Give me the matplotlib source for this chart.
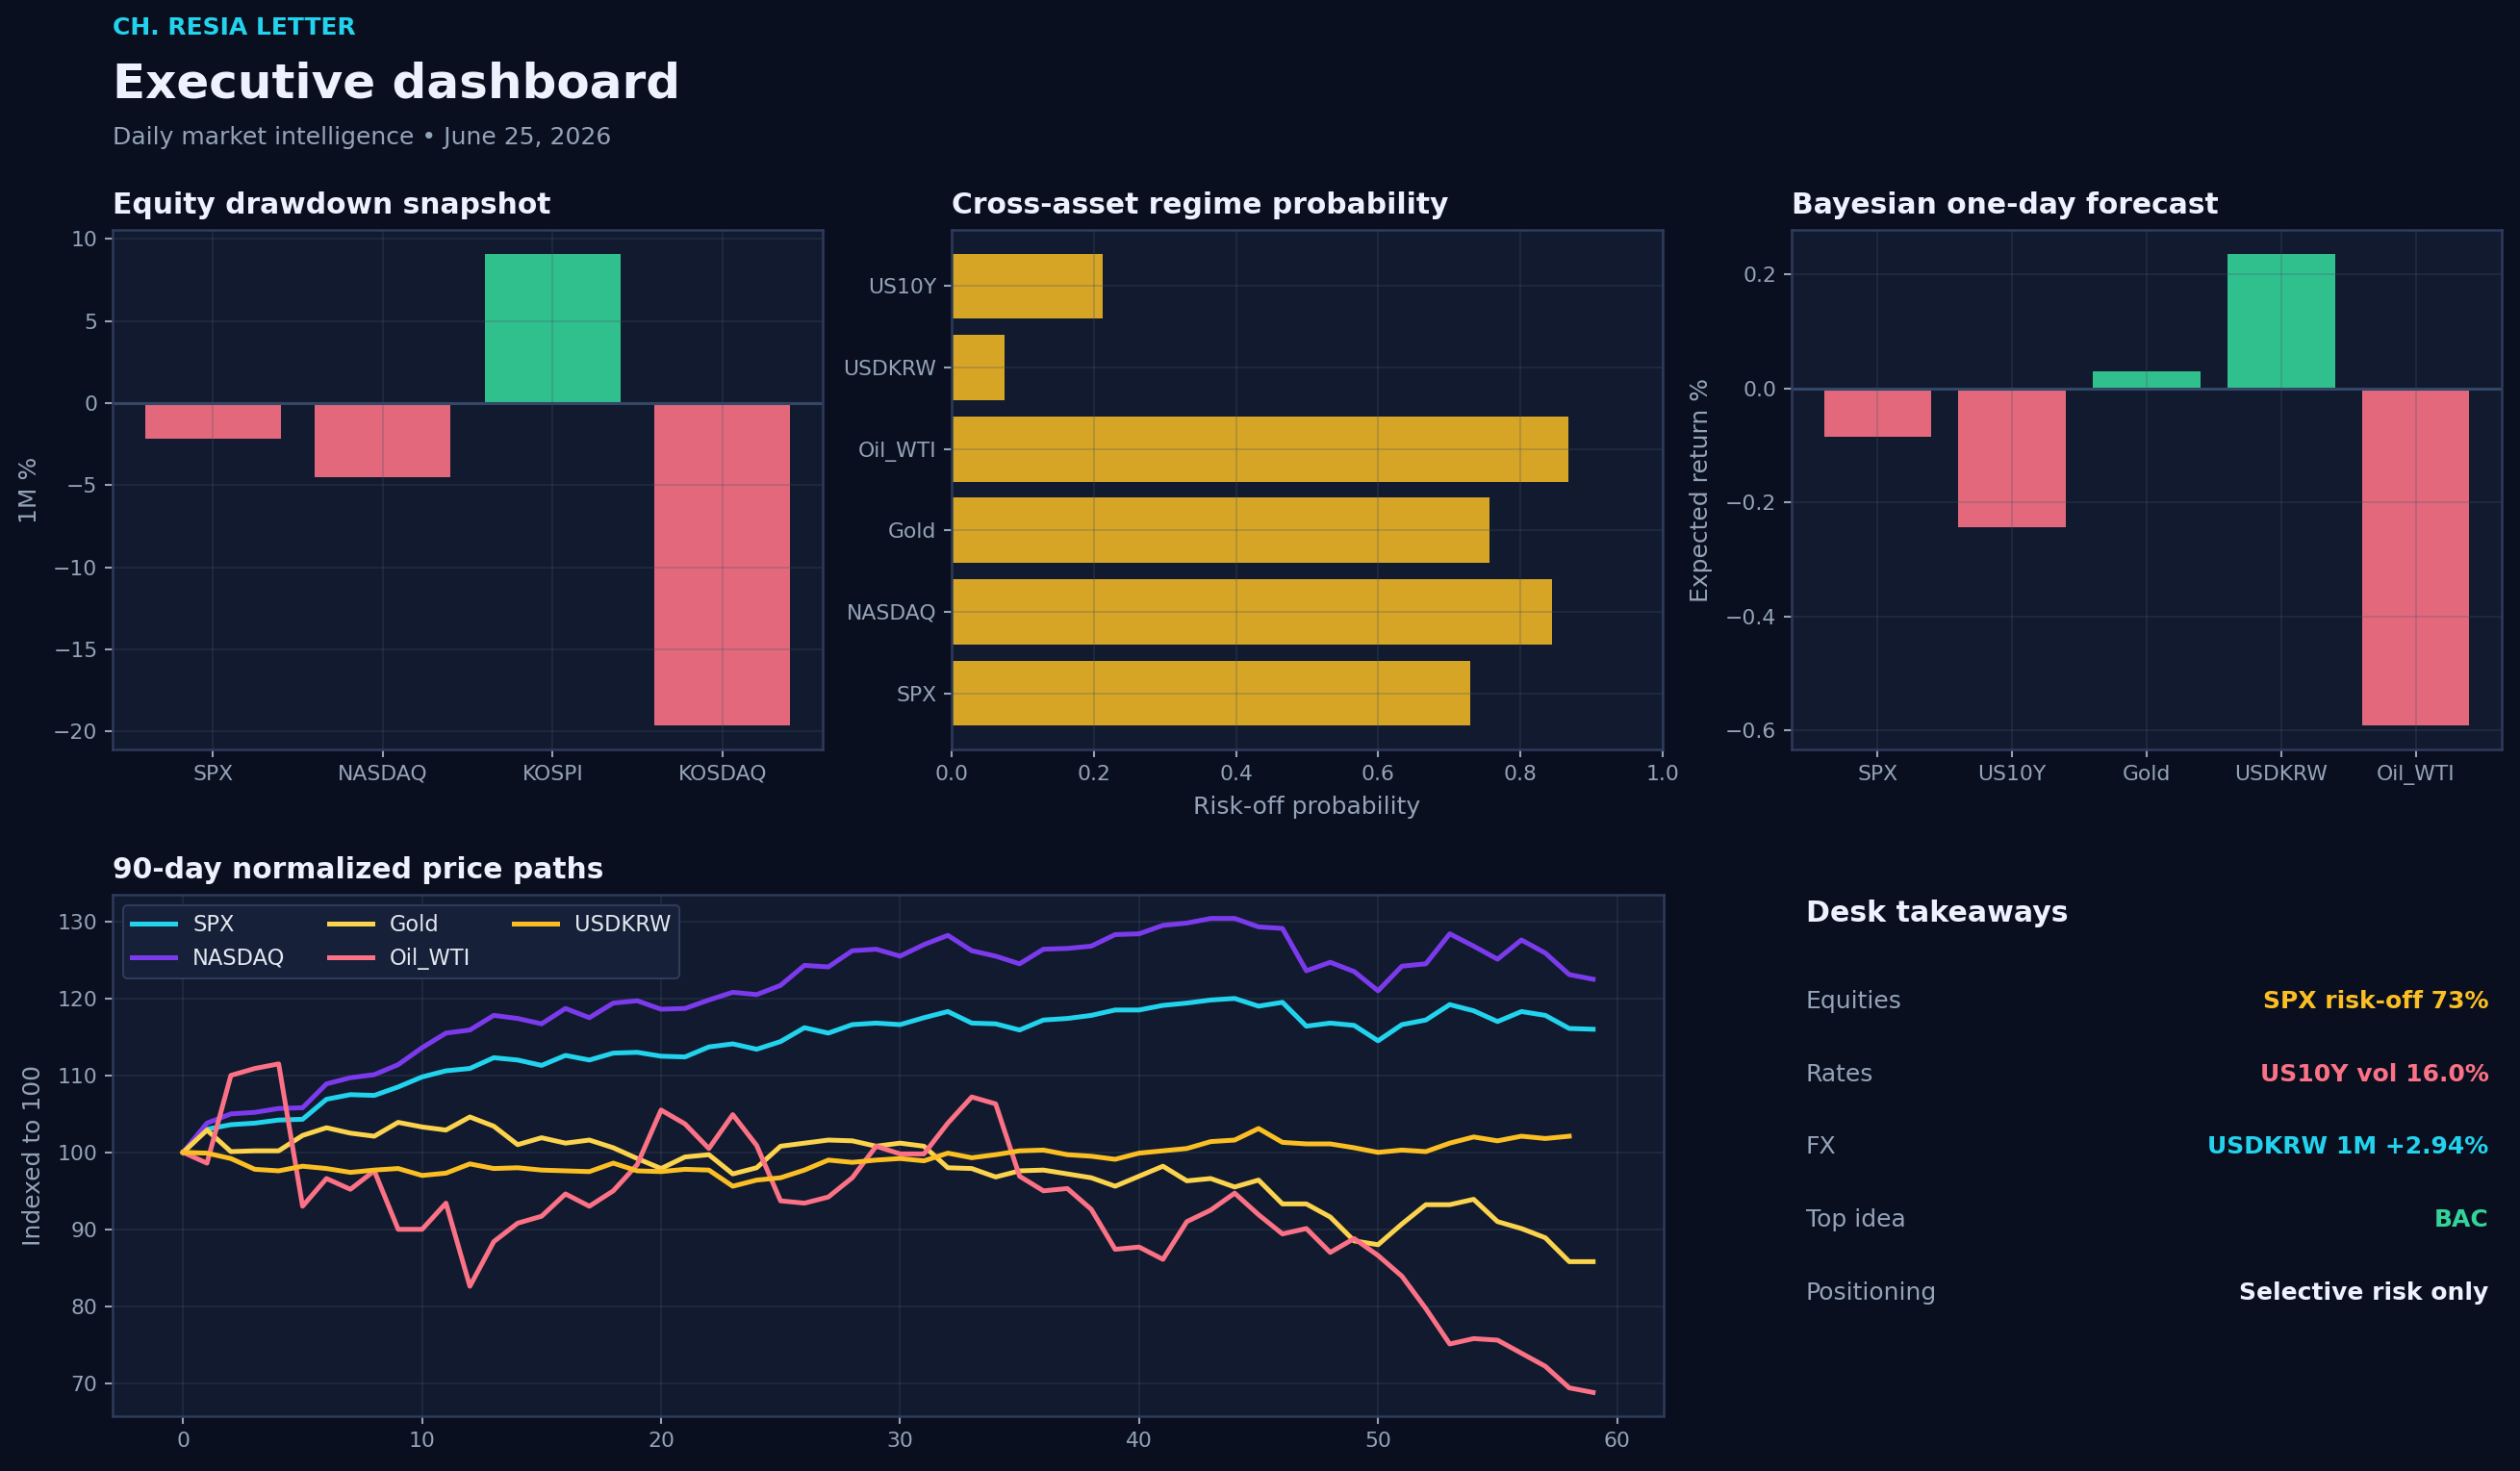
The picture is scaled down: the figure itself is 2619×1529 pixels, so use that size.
import matplotlib
matplotlib.use("Agg")
import matplotlib.pyplot as plt

# colours
BG = "#0a0f1f"
PANEL = "#111a2e"
SPINE = "#2f3b5c"
MUTED = "#94a3b8"
WHITE = "#eef2ff"
RED = "#fb7185"
GREEN = "#34d399"
AMBER = "#fbbf24"
CYAN = "#22d3ee"
PURPLE = "#7c3aed"
GOLD = "#fcd34d"

# data
equity_names = ["SPX", "NASDAQ", "KOSPI", "KOSDAQ"]
equity_1m = [-2.15, -4.5, 9.1, -19.65]

regime_names = ["SPX", "NASDAQ", "Gold", "Oil_WTI", "USDKRW", "US10Y"]
riskoff_prob = [0.729, 0.844, 0.756, 0.867, 0.074, 0.213]

forecast_names = ["SPX", "US10Y", "Gold", "USDKRW", "Oil_WTI"]
forecast_ret = [-0.085, -0.243, 0.031, 0.237, -0.592]

spx = [100, 103.0, 103.6, 103.8, 104.2, 104.3, 106.9, 107.5, 107.4, 108.5,
       109.8, 110.6, 110.9, 112.3, 112.0, 111.3, 112.6, 112.0, 112.9, 113.0,
       112.5, 112.4, 113.7, 114.1, 113.4, 114.4, 116.2, 115.5, 116.6, 116.8,
       116.6, 117.5, 118.3, 116.8, 116.7, 115.9, 117.2, 117.4, 117.8, 118.5,
       118.5, 119.1, 119.4, 119.8, 120.0, 119.0, 119.5, 116.4, 116.8, 116.5,
       114.5, 116.6, 117.2, 119.2, 118.4, 117.0, 118.3, 117.8, 116.1, 116.0]
nasdaq = [100, 103.8, 105.0, 105.2, 105.7, 105.8, 108.9, 109.7, 110.1, 111.4,
          113.6, 115.5, 115.9, 117.8, 117.4, 116.7, 118.7, 117.5, 119.4, 119.7,
          118.6, 118.7, 119.8, 120.8, 120.5, 121.7, 124.3, 124.1, 126.2, 126.4,
          125.5, 127.0, 128.2, 126.2, 125.5, 124.5, 126.4, 126.5, 126.8, 128.3,
          128.4, 129.5, 129.8, 130.4, 130.4, 129.3, 129.1, 123.6, 124.7, 123.5,
          121.0, 124.2, 124.5, 128.4, 126.8, 125.1, 127.6, 125.9, 123.1, 122.5]
gold = [100, 102.9, 100.1, 100.2, 100.2, 102.2, 103.2, 102.5, 102.1, 103.9,
        103.3, 102.9, 104.6, 103.4, 101.0, 101.9, 101.2, 101.6, 100.6, 99.2,
        97.9, 99.4, 99.7, 97.2, 98.0, 100.8, 101.2, 101.6, 101.5, 100.8,
        101.2, 100.8, 98.0, 97.9, 96.8, 97.6, 97.7, 97.2, 96.7, 95.6,
        96.9, 98.2, 96.3, 96.6, 95.5, 96.4, 93.3, 93.3, 91.6, 88.5,
        88.0, 90.7, 93.2, 93.2, 93.9, 91.0, 90.1, 88.9, 85.8, 85.8]
oil = [100, 98.6, 110.0, 110.9, 111.5, 93.0, 96.6, 95.2, 97.6, 90.0,
       90.0, 93.4, 82.6, 88.4, 90.8, 91.7, 94.6, 93.0, 95.0, 98.4,
       105.5, 103.7, 100.5, 104.9, 100.9, 93.7, 93.4, 94.2, 96.7, 100.8,
       99.8, 99.8, 103.8, 107.2, 106.3, 96.9, 95.0, 95.3, 92.6, 87.4,
       87.7, 86.1, 91.0, 92.5, 94.7, 91.9, 89.4, 90.1, 87.0, 88.8,
       86.6, 83.9, 79.7, 75.1, 75.8, 75.6, 73.9, 72.2, 69.4, 68.8]
usdkrw = [100, 99.9, 99.2, 97.8, 97.6, 98.2, 97.9, 97.4, 97.7, 97.9,
          97.0, 97.3, 98.5, 97.9, 98.0, 97.7, 97.6, 97.5, 98.6, 97.6,
          97.5, 97.8, 97.7, 95.6, 96.4, 96.7, 97.7, 99.0, 98.7, 99.0,
          99.2, 98.9, 99.9, 99.3, 99.7, 100.2, 100.3, 99.7, 99.5, 99.1,
          99.9, 100.2, 100.5, 101.4, 101.6, 103.1, 101.3, 101.1, 101.1, 100.6,
          100.0, 100.3, 100.1, 101.2, 102.0, 101.5, 102.1, 101.8, 102.1]

takeaway_labels = ["Equities", "Rates", "FX", "Top idea", "Positioning"]
takeaway_values = ["SPX risk-off 73%", "US10Y vol 16.0%", "USDKRW 1M +2.94%",
                   "BAC", "Selective risk only"]
takeaway_colors = [AMBER, RED, CYAN, GREEN, WHITE]

plt.rcParams["font.family"] = "DejaVu Sans"
plt.rcParams["font.size"] = 10.5

W, H = 2619, 1529
fig = plt.figure(figsize=(W / 150, H / 150), dpi=150, facecolor=BG)


def px_axes(x0, y0, x1, y1):
    return fig.add_axes([x0 / W, 1 - y1 / H, (x1 - x0) / W, (y1 - y0) / H])


def style(ax, title):
    ax.set_facecolor(PANEL)
    for s in ax.spines.values():
        s.set_color(SPINE)
        s.set_linewidth(1.2)
    ax.tick_params(colors=MUTED, labelsize=10.5, length=4, width=1)
    ax.grid(True, color="#475569", alpha=0.3, linewidth=0.8)
    ax.set_title(title, loc="left", color=WHITE, fontsize=14.3,
                 fontweight="bold", pad=8)


def signed(vals):
    return [RED if v < 0 else GREEN for v in vals]


ax1 = px_axes(117, 239, 855, 779)
style(ax1, "Equity drawdown snapshot")
ax1.bar(equity_names, equity_1m, color=signed(equity_1m), alpha=0.9)
ax1.axhline(0, color="#334766", linewidth=1.5)
ax1.set_ylabel("1M %", color=MUTED, fontsize=12, labelpad=6)

ax2 = px_axes(989, 239, 1728, 779)
style(ax2, "Cross-asset regime probability")
ax2.barh(regime_names, riskoff_prob, color=AMBER, alpha=0.85)
ax2.set_xlim(0, 1)
ax2.set_xlabel("Risk-off probability", color=MUTED, fontsize=12, labelpad=6)

ax3 = px_axes(1862, 239, 2600, 779)
style(ax3, "Bayesian one-day forecast")
ax3.bar(forecast_names, forecast_ret, color=signed(forecast_ret), alpha=0.9)
ax3.axhline(0, color="#334766", linewidth=1.5)
ax3.set_ylabel("Expected return %", color=MUTED, fontsize=12, labelpad=6)

ax4 = px_axes(117, 930, 1729, 1472)
style(ax4, "90-day normalized price paths")
series = [("SPX", spx, CYAN), ("NASDAQ", nasdaq, PURPLE), ("Gold", gold, GOLD),
          ("Oil_WTI", oil, RED), ("USDKRW", usdkrw, AMBER)]
for name, vals, col in series:
    ax4.plot(range(len(vals)), vals, color=col, linewidth=2.4, label=name)
ax4.set_ylabel("Indexed to 100", color=MUTED, fontsize=12, labelpad=6)
ax4.set_xticks(range(0, 61, 10))
leg = ax4.legend(loc="upper left", ncol=3, fontsize=10.8, frameon=True,
                 facecolor="#172039", edgecolor=SPINE, labelcolor="#e2e8f0",
                 framealpha=1.0, handlelength=2.0, columnspacing=2.0)

ax5 = px_axes(1862, 930, 2600, 1472)
ax5.axis("off")
ax5.text(0.02, 0.948, "Desk takeaways", transform=ax5.transAxes, color=WHITE,
         fontsize=14.4, fontweight="bold", va="baseline")
for i, (lab, val, col) in enumerate(zip(takeaway_labels, takeaway_values,
                                        takeaway_colors)):
    y = 0.782 - i * 0.1395
    ax5.text(0.02, y, lab, transform=ax5.transAxes, color=MUTED,
             fontsize=12, va="baseline")
    ax5.text(0.982, y, val, transform=ax5.transAxes, color=col,
             fontsize=12, fontweight="bold", ha="right", va="baseline")

fig.text(117 / W, 1 - 36 / H, "CH. RESIA LETTER", color=CYAN, fontsize=12,
         fontweight="bold", va="baseline")
fig.text(117 / W, 1 - 101 / H, "Executive dashboard", color=WHITE,
         fontsize=24, fontweight="bold", va="baseline")
fig.text(117 / W, 1 - 150 / H, "Daily market intelligence \u2022 June 25, 2026",
         color=MUTED, fontsize=12, va="baseline")

fig.savefig("out.png", dpi=150, facecolor=BG)
